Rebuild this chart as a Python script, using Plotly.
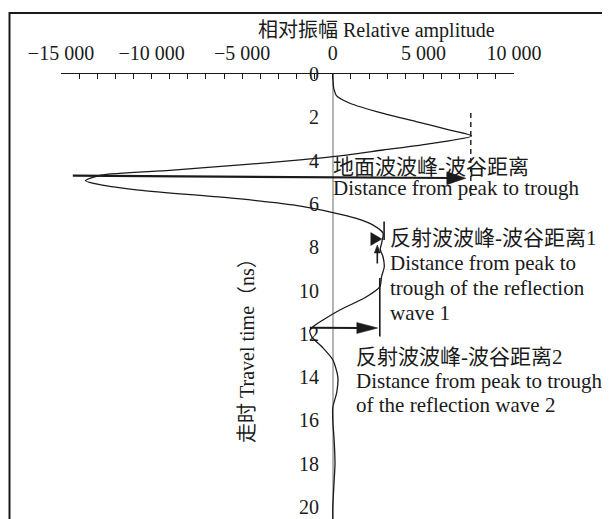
import plotly.graph_objects as go

# ---------------- data ----------------
time_ns = [0, 0.3, 0.6, 0.75, 1.0, 1.35, 1.82, 2.2, 2.59, 2.86, 3.2, 3.51, 3.82, 3.97,
           4.2, 4.45, 4.67, 4.93, 5.12, 5.36, 5.77, 6.05, 6.4, 6.67, 6.97, 7.35, 7.8,
           8.1, 8.44, 8.9, 9.36, 9.82, 10.29, 10.9, 11.36, 11.67, 11.85, 12.15, 12.6,
           13.2, 14.0, 14.7, 15.4, 16.0, 17.0, 18.0, 19.0, 20.0, 21.0]
amplitude = [0, 10, 40, 80, 200, 940, 2780, 4600, 6460, 7660, 5500, 2780, 0, -1800,
             -5100, -9000, -12800, -13650, -12800, -10700, -5100, -2200, 0, 1300, 2200,
             2770, 2700, 2620, 2770, 2840, 2690, 2600, 1860, 390, -540, -1090, -1270,
             -1150, -600, 0, 280, 220, 0, 0, 80, 120, 60, 0, 0]

x_tickvals = list(range(-15000, 10001, 1000))
x_major = [-15000, -10000, -5000, 0, 5000, 10000]
x_major_text = ["\u221215 000", "\u221210 000", "\u22125 000", "0", "5 000", "10 000"]
y_tickvals = [0, 2, 4, 6, 8, 10, 12, 14, 16, 18, 20]

# ---------------- geometry helpers (page pixel -> data) ----------------
OFF = 8                      # page body margin
W, H = 610, 519
L, R, T = 61, 514, 74        # page-pixel edges of the plot area
X0PX = 333.0
PX_PER_UNIT_X = (R - L) / 25000.0
PX_PER_NS = 21.65
PLOT_H = H - (T - OFF)
Y_MAX = PLOT_H / PX_PER_NS


def X(px):
    return (px - X0PX) / PX_PER_UNIT_X


def Y(py):
    return (py - T) / PX_PER_NS


def PXX(px):
    return (px - L) / (R - L)


def PYY(py):
    return 1 - (py - T) / PLOT_H


INK = "#1a1a1a"
FONT = "Liberation Serif, 'Noto Sans CJK SC', serif"

x_ticktext = [x_major_text[x_major.index(v)] if v in x_major else "" for v in x_tickvals]

fig = go.Figure()
fig.add_trace(go.Scatter(
    x=amplitude, y=time_ns, mode="lines",
    line=dict(color=INK, width=1.3, shape="spline", smoothing=0.7),
    hoverinfo="skip", showlegend=False,
))

shapes = []
# frame (left + top visible)
shapes.append(dict(type="rect", xref="paper", yref="paper",
                   x0=PXX(9.5), x1=PXX(680), y0=PYY(600), y1=PYY(13),
                   line=dict(color=INK, width=2), layer="above"))


def seg(px0, py0, px1, py1, width=1.6, dash=None):
    d = dict(type="line", xref="x", yref="y", x0=X(px0), y0=Y(py0), x1=X(px1), y1=Y(py1),
             line=dict(color=INK, width=width))
    if dash:
        d["line"]["dash"] = dash
    shapes.append(d)


def head(px, py, length, half, direction="right"):
    if direction == "right":
        path = f"M0,0 L{-length},{half} L{-length},{-half} Z"
    else:  # up
        path = f"M0,0 L{-half},{-length} L{half},{-length} Z"
    shapes.append(dict(type="path", xref="x", yref="y", xsizemode="pixel", ysizemode="pixel",
                       xanchor=X(px), yanchor=Y(py), path=path,
                       fillcolor=INK, line=dict(color=INK, width=0.5)))


# dashed marker at ground-wave peak
seg(471, 113, 471, 196, width=1.4, dash="5px,4px")
# ground-wave arrow
seg(73, 175.7, 452, 178, width=2.2)
head(466, 178.2, 19, 6.5)
# reflection 1 markers
seg(384.3, 221.5, 384.3, 240, width=1.6)
head(382, 239, 11, 6.5)
seg(377.5, 248, 377.5, 263.5, width=1.6)
head(377.5, 245, 8, 3, direction="up")
seg(380, 278, 380, 336.5, width=1.6)
# reflection 2 arrow
seg(310, 327.7, 362, 328, width=2.0)
head(378, 328, 21, 5.5)

annotations = []


def txt(text, px, py, size=21, xanchor="left", angle=0):
    annotations.append(dict(text=text, xref="paper", yref="paper", x=PXX(px), y=PYY(py),
                            xanchor=xanchor, yanchor="middle", showarrow=False,
                            textangle=angle, font=dict(family=FONT, size=size, color=INK)))


txt("相对振幅 Relative amplitude", 376, 31, size=20, xanchor="center")
txt("走时 Travel time（ns）", 247, 346, size=20, xanchor="center", angle=-90)

txt("地面波波峰-波谷距离", 331, 166.5)
txt("Distance from peak to trough", 331, 188)

txt("反射波波峰-波谷距离1", 388, 238)
txt("Distance from peak to", 388, 263)
txt("trough of the reflection", 388, 288)
txt("wave 1", 388, 313)

txt("反射波波峰-波谷距离2", 354, 357)
txt("Distance from peak to trough", 354, 381)
txt("of the reflection wave 2", 354, 405)

fig.update_layout(
    width=W, height=H,
    margin=dict(l=L - OFF, r=W - (R - OFF), t=T - OFF, b=0, pad=0),
    paper_bgcolor="white", plot_bgcolor="white",
    shapes=shapes, annotations=annotations,
    xaxis=dict(side="top", range=[-15000, 10000], showgrid=False,
               showline=True, linecolor=INK, linewidth=1.3,
               ticks="inside", ticklen=5, tickwidth=1.1, tickcolor=INK,
               tickmode="array", tickvals=x_tickvals, ticktext=x_ticktext,
               ticklabelstandoff=5,
               tickfont=dict(family=FONT, size=20, color=INK),
               zeroline=True, zerolinecolor="#b5b5b5", zerolinewidth=1.6),
    yaxis=dict(anchor="free", position=(X0PX - L) / (R - L), range=[Y_MAX, 0],
               showgrid=False, showline=False, zeroline=False, ticks="",
               tickmode="array", tickvals=y_tickvals,
               ticklabelstandoff=14,
               tickfont=dict(family=FONT, size=20, color=INK)),
)

fig.write_html("out.html")
